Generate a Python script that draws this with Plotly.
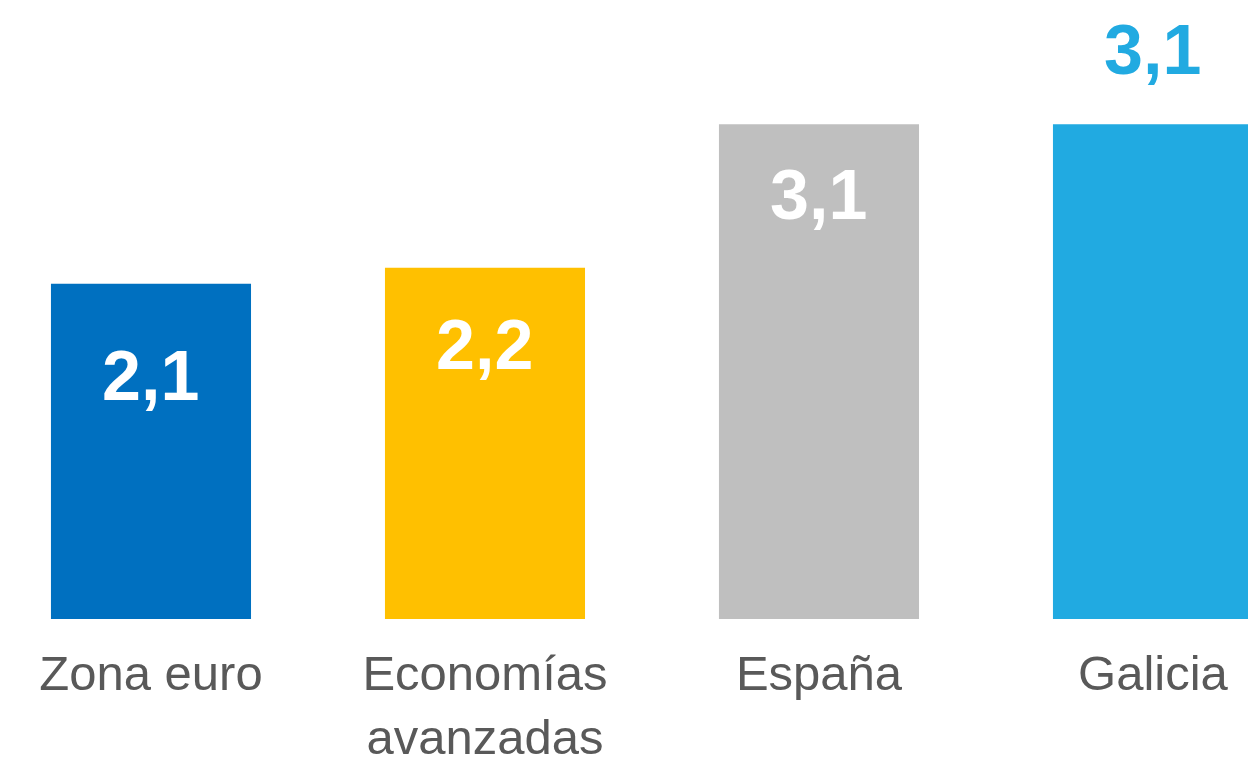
import plotly.graph_objects as go

categories = ["Zona euro", "Economías<br>avanzadas", "España", "Galicia"]
values = [2.1, 2.2, 3.1, 3.1]
value_labels = ["2,1", "2,2", "3,1", "3,1"]
bar_colors = ["#0070C0", "#FFC000", "#BFBFBF", "#21AAE1"]
label_colors = ["#FFFFFF", "#FFFFFF", "#FFFFFF", "#21AAE1"]
label_inside = [True, True, True, False]
label_gap = [51, 36, 30, 33]

fig = go.Figure()
fig.add_trace(go.Bar(
    x=list(range(len(categories))),
    y=values,
    marker=dict(color=bar_colors, line=dict(width=0)),
    width=0.599,
    hoverinfo="skip",
))

label_font = "Liberation Sans, Arial, sans-serif"
for i, (v, t, c, ins, g) in enumerate(zip(values, value_labels, label_colors, label_inside, label_gap)):
    fig.add_annotation(
        x=i, y=v, xref="x", yref="y", text=t, showarrow=False,
        yanchor="top" if ins else "bottom",
        yshift=-g if ins else g,
        font=dict(family=label_font, size=70, color=c, weight="bold"),
    )

fig.update_layout(
    width=1248, height=756,
    margin=dict(l=0, r=0, t=0, b=145, pad=0),
    paper_bgcolor="white", plot_bgcolor="white",
    showlegend=False,
    xaxis=dict(
        range=[-0.4281, 3.3084],
        tickmode="array",
        tickvals=list(range(len(categories))),
        ticktext=categories,
        showgrid=False, zeroline=False, showline=False, ticks="",
        ticklabelstandoff=21,
        tickfont=dict(family="Liberation Sans, Arial, sans-serif", size=49, color="#595959"),
    ),
    yaxis=dict(
        range=[0, 3.828],
        visible=False, showgrid=False, zeroline=False,
    ),
)

fig.write_html("out.html")
